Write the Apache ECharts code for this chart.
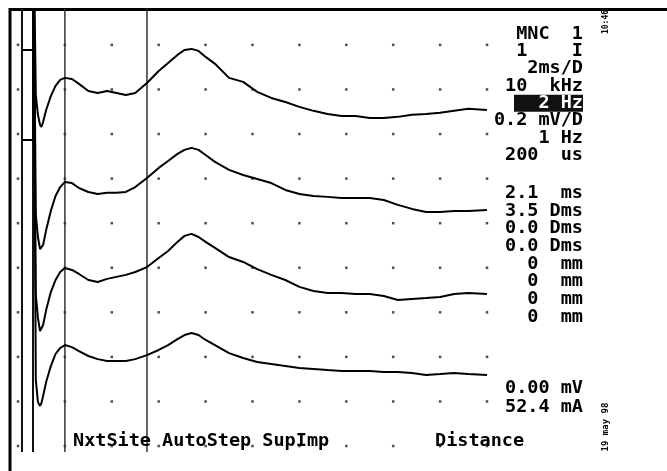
<!DOCTYPE html>
<html>
<head>
<meta charset="utf-8">
<style>html,body{margin:0;padding:0;background:#fff;}#c{width:667px;height:471px;}</style>
<script src="https://cdn.jsdelivr.net/npm/echarts@6/dist/echarts.min.js"></script>
</head>
<body>
<div id="c"></div>
<script>
// ---- data (time in ms, amplitude in mV on the display scale) ----
const timeTicks = [0, 2, 4, 6, 8, 10, 12, 14, 16, 18, 20];
const ampTicks = [0, 0.2, 0.4, 0.6, 0.8, 1.0, 1.2, 1.4, 1.6, 1.8];
const timeMs = [0.76, 0.85, 0.94, 1.0, 1.07, 1.2, 1.4, 1.6, 1.8, 2.0, 2.3, 2.6, 3.0, 3.4, 3.8, 4.2, 4.6, 5.0, 5.5, 6.0, 6.4, 6.8, 7.1, 7.4, 7.7, 8.0, 8.4, 9.0, 9.6, 10.2, 10.8, 11.4, 12.0, 12.6, 13.2, 13.8, 14.4, 15.0, 15.6, 16.2, 16.8, 17.4, 18.0, 18.6, 19.2, 20.0];
const trace1 = [1.575,1.486,1.441,1.432,1.454,1.508,1.570,1.616,1.643,1.652,1.647,1.625,1.593,1.584,1.593,1.584,1.575,1.584,1.629,1.683,1.719,1.755,1.777,1.782,1.773,1.746,1.715,1.652,1.634,1.589,1.562,1.544,1.522,1.504,1.490,1.481,1.481,1.472,1.472,1.477,1.486,1.490,1.495,1.504,1.513,1.508];
const trace2 = [1.037,0.938,0.884,0.880,0.902,0.969,1.055,1.122,1.162,1.185,1.180,1.158,1.140,1.131,1.136,1.136,1.140,1.162,1.203,1.248,1.279,1.311,1.329,1.338,1.329,1.306,1.275,1.239,1.216,1.198,1.180,1.149,1.131,1.122,1.118,1.113,1.113,1.113,1.104,1.082,1.064,1.050,1.050,1.055,1.055,1.059];
const trace3 = [0.678,0.575,0.516,0.516,0.543,0.610,0.691,0.745,0.781,0.799,0.790,0.772,0.745,0.736,0.750,0.759,0.768,0.781,0.803,0.844,0.875,0.916,0.943,0.952,0.938,0.916,0.889,0.848,0.826,0.794,0.768,0.745,0.714,0.696,0.687,0.687,0.682,0.682,0.673,0.655,0.660,0.664,0.669,0.682,0.687,0.682];
const trace4 = [0.296,0.197,0.180,0.193,0.224,0.287,0.359,0.413,0.440,0.453,0.444,0.426,0.404,0.390,0.382,0.382,0.382,0.390,0.408,0.431,0.453,0.480,0.498,0.507,0.498,0.476,0.453,0.417,0.395,0.377,0.368,0.359,0.350,0.346,0.341,0.337,0.337,0.337,0.332,0.332,0.328,0.319,0.323,0.328,0.323,0.319];
const preStimLevel = [1.777, 1.373, null, null];
const preStimStart = 0.17;
const stimTime = 0.64;
const artifactPeak = 2.5;
const cursorTimes = [0.17, 0.64, 2.0, 5.5];
const panelGroup1 = ['MNC  1', '1    I', '2ms/D', '10  kHz', '  2 Hz', '0.2 mV/D', '1 Hz', '200  us'];
const panelGroup2 = ['2.1  ms', '3.5 Dms', '0.0 Dms', '0.0 Dms', '0  mm', '0  mm', '0  mm', '0  mm'];
const panelGroup3 = ['0.00 mV', '52.4 mA'];
const highlightIndex = 4;
const bottomLeftText = 'NxtSite AutoStep SupImp';
const bottomRightText = 'Distance';
const timeText = '10:46';
const dateText = '19 may 98';

// ---- build ----
const Y_MIN = -0.112, Y_MAX = 1.961;
const traces = [trace1, trace2, trace3, trace4];
function buildTrace(vals, k) {
  const d = [];
  if (preStimLevel[k] !== null) {
    d.push([preStimStart, preStimLevel[k]], [stimTime, preStimLevel[k]]);
  }
  d.push([stimTime, artifactPeak], [0.70, artifactPeak]);
  vals.forEach((v, i) => d.push([timeMs[i], v]));
  return d;
}
const dots = [];
timeTicks.forEach(t => ampTicks.forEach(a => dots.push([t, a])));

const series = [];
series.push({type: 'scatter', data: dots, symbol: 'rect', symbolSize: 2.5, itemStyle: {color: '#222'}, silent: true, z: 1});
cursorTimes.forEach((t, i) => {
  series.push({type: 'line', data: [[t, -0.027], [t, Y_MAX]], symbol: 'none',
    lineStyle: {color: i < 2 ? '#111' : '#333', width: i < 2 ? 2 : 1.5}, silent: true, z: 2});
});
traces.forEach((vals, k) => {
  series.push({type: 'line', data: buildTrace(vals, k), symbol: 'none', clip: true,
    lineStyle: {color: '#000', width: 2}, silent: true, z: 3});
});

const FONT = '"DejaVu Sans Mono", monospace';
const graphics = [];
// frame
graphics.push({type: 'line', shape: {x1: 9, y1: 9.5, x2: 667, y2: 9.5}, style: {stroke: '#000', lineWidth: 3}});
graphics.push({type: 'line', shape: {x1: 10, y1: 8, x2: 10, y2: 471}, style: {stroke: '#000', lineWidth: 3}});
function txt(text, x, y, align, color, size) {
  return {type: 'text', z: 10, style: {text: text, x: x, y: y, textAlign: align, align: align,
    textVerticalAlign: 'middle', verticalAlign: 'middle', fill: color || '#000',
    font: 'bold ' + (size || 18.5) + 'px ' + FONT}};
}
const RIGHT_X = 583;
panelGroup1.forEach((s, i) => {
  const y = 34 + 17.3 * i;
  if (i === highlightIndex) {
    graphics.push({type: 'rect', z: 9, shape: {x: 514, y: y - 8.5, width: 69, height: 17}, style: {fill: '#111'}});
    graphics.push(txt(s, RIGHT_X, y, 'right', '#fff'));
  } else {
    graphics.push(txt(s, RIGHT_X, y, 'right'));
  }
});
panelGroup2.forEach((s, i) => graphics.push(txt(s, RIGHT_X, 193 + 17.7 * i, 'right')));
panelGroup3.forEach((s, i) => graphics.push(txt(s, RIGHT_X, 388 + 19 * i, 'right')));
graphics.push(txt(bottomLeftText, 73, 441, 'left'));
graphics.push(txt(bottomRightText, 435, 441, 'left'));
graphics.push({type: 'text', x: 606, y: 22, rotation: Math.PI / 2, z: 10,
  style: {text: timeText, x: 0, y: 0, textAlign: 'center', align: 'center', textVerticalAlign: 'middle', verticalAlign: 'middle', fill: '#000', font: 'bold 8px ' + FONT}});
graphics.push({type: 'text', x: 606, y: 427, rotation: Math.PI / 2, z: 10,
  style: {text: dateText, x: 0, y: 0, textAlign: 'center', align: 'center', textVerticalAlign: 'middle', verticalAlign: 'middle', fill: '#000', font: 'bold 9px ' + FONT}});

const chart = echarts.init(document.getElementById('c'), null, {renderer: 'canvas'});
chart.setOption({
  animation: false,
  backgroundColor: '#fff',
  grid: {left: 18, right: 180, top: 9, bottom: 0, containLabel: false},
  xAxis: {type: 'value', min: 0, max: 20, show: false},
  yAxis: {type: 'value', min: Y_MIN, max: Y_MAX, show: false},
  series: series,
  graphic: graphics
});
</script>
</body>
</html>
